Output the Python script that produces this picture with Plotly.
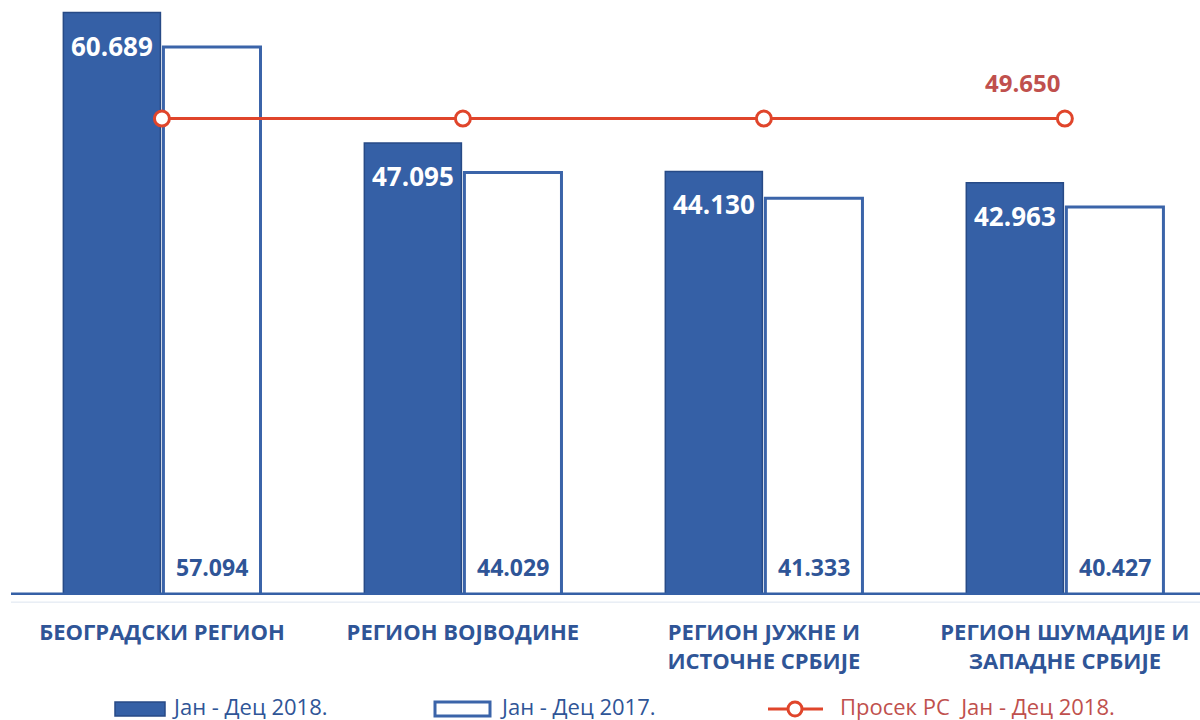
import plotly.graph_objects as go

categories = ["БЕОГРАДСКИ РЕГИОН", "РЕГИОН ВОЈВОДИНЕ", "РЕГИОН ЈУЖНЕ И<br>ИСТОЧНЕ СРБИЈЕ", "РЕГИОН ШУМАДИЈЕ И<br>ЗАПАДНЕ СРБИЈЕ"]
values_2018 = [60.689, 47.095, 44.130, 42.963]
values_2017 = [57.094, 44.029, 41.333, 40.427]
avg_2018 = [49.650, 49.650, 49.650, 49.650]
labels_2018 = ["60.689", "47.095", "44.130", "42.963"]
labels_2017 = ["57.094", "44.029", "41.333", "40.427"]
avg_label = "49.650"

name_2018 = "Јан - Дец 2018."
name_2017 = "Јан - Дец 2017."
name_avg = "Просек РС  Јан - Дец 2018."

DARK = "#3560a6"
DARK_EDGE = "#274a86"
BLUE_TXT = "#2f5597"
RED = "#e0452b"
RED_TXT = "#c0504d"
FONT = "Open Sans"

xpos = list(range(len(categories)))
bargap = 0.335
bargroupgap = 0.03
slot = (1 - bargap) / 2
off = slot / 2

W, H = 1200, 720
B = 125
plot_h = H - B

def px_to_paper(xp, yp):
    return xp / W, (plot_h - yp) / plot_h

fig = go.Figure()
fig.add_trace(go.Bar(x=xpos, y=values_2018, name=name_2018,
                     marker=dict(color=DARK, line=dict(color=DARK_EDGE, width=1.5)),
                     showlegend=False, hoverinfo="y"))
fig.add_trace(go.Bar(x=xpos, y=values_2017, name=name_2017,
                     marker=dict(color="white", line=dict(color="#3b64a9", width=3)),
                     showlegend=False, hoverinfo="y"))
fig.add_trace(go.Scatter(x=xpos, y=avg_2018, name=name_avg, mode="lines+markers",
                         line=dict(color=RED, width=3),
                         marker=dict(symbol="circle", size=15, color="white",
                                     line=dict(color=RED, width=3)),
                         showlegend=False, hoverinfo="y"))

annotations = []
for i, (v, t) in enumerate(zip(values_2018, labels_2018)):
    annotations.append(dict(x=i - off, y=v, xref="x", yref="y", text=t, showarrow=False,
                            yanchor="top", yshift=-13,
                            font=dict(family=FONT, size=26, color="white", weight="bold")))
for i, t in enumerate(labels_2017):
    annotations.append(dict(x=i + off, y=0, xref="x", yref="y", text=t, showarrow=False,
                            yanchor="bottom", yshift=10,
                            font=dict(family=FONT, size=23, color=BLUE_TXT, weight="bold")))
annotations.append(dict(x=xpos[-1], y=avg_2018[-1], xref="x", yref="y", text=avg_label,
                        showarrow=False, yanchor="bottom", yshift=18, xshift=-42,
                        font=dict(family=FONT, size=24, color=RED_TXT, weight="bold")))

# custom legend texts
for xp, txt, col in [(170, name_2018, BLUE_TXT), (498, name_2017, BLUE_TXT), (838, name_avg, RED_TXT)]:
    px, py = px_to_paper(xp, 706)
    annotations.append(dict(x=px, y=py, xref="paper", yref="paper", text=txt, showarrow=False,
                            xanchor="left", yanchor="middle",
                            font=dict(family=FONT, size=22, color=col)))

shapes = []
x0, _ = px_to_paper(11, 0)
shapes.append(dict(type="line", xref="paper", yref="paper", x0=x0, x1=1, y0=-0.012, y1=-0.012,
                   line=dict(color="#dde4ef", width=1)))
shapes.append(dict(type="line", xref="paper", yref="y", x0=x0, x1=1, y0=0, y1=0,
                   line=dict(color="#3560a6", width=5), layer="above"))
a0, b0 = px_to_paper(115, 702)
a1, b1 = px_to_paper(165, 716)
shapes.append(dict(type="rect", xref="paper", yref="paper", x0=a0, x1=a1, y0=b1, y1=b0,
                   fillcolor=DARK, line=dict(color=DARK_EDGE, width=1.5)))
a0, b0 = px_to_paper(435, 702)
a1, b1 = px_to_paper(490, 716)
shapes.append(dict(type="rect", xref="paper", yref="paper", x0=a0, x1=a1, y0=b1, y1=b0,
                   fillcolor="white", line=dict(color="#3b64a9", width=3)))
a0, b0 = px_to_paper(768, 709)
a1, _ = px_to_paper(823, 709)
shapes.append(dict(type="line", xref="paper", yref="paper", x0=a0, x1=a1, y0=b0, y1=b0,
                   line=dict(color=RED, width=3)))
c0, d0 = px_to_paper(788, 702)
c1, d1 = px_to_paper(802, 716)
shapes.append(dict(type="circle", xref="paper", yref="paper", x0=c0, x1=c1, y0=d1, y1=d0,
                   fillcolor="white", line=dict(color=RED, width=3)))

fig.update_layout(
    width=W, height=H,
    margin=dict(l=0, r=0, t=0, b=B),
    plot_bgcolor="white", paper_bgcolor="white",
    barmode="group", bargap=bargap, bargroupgap=bargroupgap,
    xaxis=dict(range=[-0.538, 3.449], tickmode="array", tickvals=xpos, ticktext=categories,
               showgrid=False, zeroline=False, showline=False, ticks="",
               ticklabelstandoff=22,
               tickfont=dict(family=FONT, size=22, color=BLUE_TXT, weight="bold")),
    yaxis=dict(range=[0, 62], visible=False),
    showlegend=False,
    font=dict(family=FONT),
    annotations=annotations,
    shapes=shapes,
)

fig.write_html("out.html", config={"displayModeBar": False},
               post_script="document.body.style.margin='0';document.body.style.padding='0';")
